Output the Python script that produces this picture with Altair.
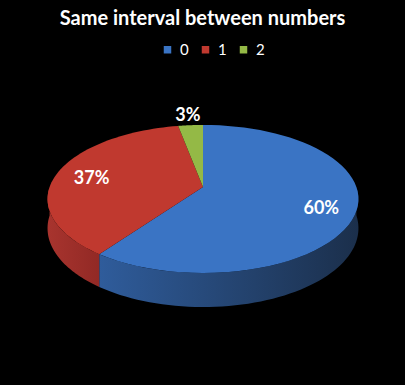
import altair as alt
import pandas as pd

# Shares of draws by how many times the same interval repeats
categories = ["0", "1", "2"]
shares = [60, 37, 3]
top_colors = ["#3a74c4", "#c0392f", "#94b946"]
side_shades = {
    "0": ("#2f5c9b", "#1b2f4b"),
    "1": ("#a8342e", "#922925"),
    "2": ("#7a9a35", "#5f7a28"),
}

W, H = 405, 385
TOP = 62                      # space kept above the plot for title and legend
CX, CY = 203, 187             # pie apex on the page
A, B, K, D = 153.4, 72.1, 0.162, 28.5   # ellipse radii, perspective, slab depth
N = 60                        # arc resolution per slice

source = pd.DataFrame({"category": categories, "share": shares})

xs = alt.Scale(domain=[0, W], range=[0, W], zero=False, nice=False)
ys = alt.Scale(domain=[TOP, H], range=[0, H - TOP], zero=False, nice=False)

base = (
    alt.Chart(source)
    .transform_joinaggregate(total="sum(share)")
    .transform_window(cum="sum(share)", sort=[alt.SortField("category")], frame=[None, 0])
    .transform_calculate(
        a0="2 * PI * (datum.cum - datum.share) / datum.total",
        a1="2 * PI * datum.cum / datum.total",
    )
)

persp = f"1 / (1 - {K} * datum.v)"

# Top faces of the slices
top = (
    base.transform_calculate(k=f"sequence(0, {N + 2})")
    .transform_flatten(["k"])
    .transform_calculate(th=f"datum.a0 + (datum.a1 - datum.a0) * (datum.k - 1) / {N}")
    .transform_calculate(
        u="datum.k == 0 ? 0 : sin(datum.th)",
        v="datum.k == 0 ? 0 : -cos(datum.th)",
    )
    .transform_calculate(s=persp)
    .transform_calculate(
        px=f"{CX} + {A} * datum.u * datum.s",
        py=f"{CY} + {B} * datum.v * datum.s",
    )
    .mark_line(filled=True, strokeWidth=0)
    .encode(
        x=alt.X("px:Q", scale=xs, axis=None),
        y=alt.Y("py:Q", scale=ys, axis=None),
        color=alt.Color(
            "category:N",
            scale=alt.Scale(domain=categories, range=top_colors),
            legend=alt.Legend(
                title=None,
                orient="none",
                legendX=160,
                legendY=42 - TOP,
                direction="horizontal",
                symbolType="square",
                symbolSize=56,
                symbolStrokeWidth=0,
                labelColor="white",
                labelFont="Lato",
                labelFontSize=15,
                labelOffset=5,
                columnPadding=9,
            ),
        ),
        detail="category:N",
        order="k:Q",
    )
)

# Front walls of the slab, where they face the viewer
side_base = (
    base.transform_calculate(b0="max(datum.a0, PI / 2)", b1="min(datum.a1, 3 * PI / 2)")
    .transform_filter("datum.b1 > datum.b0")
    .transform_calculate(k=f"sequence(0, {2 * N + 2})")
    .transform_flatten(["k"])
    .transform_calculate(
        lower=f"datum.k > {N} ? 1 : 0",
        f=f"datum.k > {N} ? ({2 * N + 1} - datum.k) / {N} : datum.k / {N}",
    )
    .transform_calculate(th="datum.b0 + (datum.b1 - datum.b0) * datum.f")
    .transform_calculate(u="sin(datum.th)", v="-cos(datum.th)")
    .transform_calculate(s=persp)
    .transform_calculate(
        px=f"{CX} + {A} * datum.u * datum.s",
        py=f"{CY} + ({B} * datum.v + datum.lower * {D}) * datum.s",
    )
)


def wall(cat):
    light, dark = side_shades[cat]
    return (
        side_base.transform_filter(alt.datum.category == cat)
        .mark_line(
            filled=True,
            strokeWidth=0,
            fill=alt.Gradient(
                gradient="linear",
                x1=0, x2=1, y1=0, y2=0,
                stops=[alt.GradientStop(color=light, offset=0),
                       alt.GradientStop(color=dark, offset=1)],
            ),
        )
        .encode(
            x=alt.X("px:Q", scale=xs, axis=None),
            y=alt.Y("py:Q", scale=ys, axis=None),
            order="k:Q",
        )
    )


# Percentage labels at each slice's middle angle
labels = (
    base.transform_calculate(
        th="(datum.a0 + datum.a1) / 2",
        r="datum.share < 10 ? 1.22 : 0.77",
        label="datum.share + '%'",
    )
    .transform_calculate(u="sin(datum.th)", v="-cos(datum.th)")
    .transform_calculate(s=persp)
    .transform_calculate(
        px=f"{CX} + {A} * datum.r * datum.u * datum.s",
        py=f"{CY} + {B} * datum.r * datum.v * datum.s",
    )
    .mark_text(font="Lato", fontWeight="bold", fontSize=18, color="white", dy=4)
    .encode(
        x=alt.X("px:Q", scale=xs, axis=None),
        y=alt.Y("py:Q", scale=ys, axis=None),
        text="label:N",
    )
)

chart = (
    alt.layer(*[wall(c) for c in categories], top, labels)
    .properties(
        width=W,
        height=H - TOP,
        padding={"left": 0, "right": 0, "top": TOP, "bottom": 0},
        autosize=alt.AutoSizeParams(type="none"),
        background="black",
        title=alt.TitleParams(
            "Same interval between numbers",
            anchor="middle",
            color="white",
            font="Lato",
            fontWeight="bold",
            fontSize=20,
            baseline="alphabetic",
            offset=-3,
        ),
    )
    .configure_view(stroke=None)
)

chart.save("out.html", embed_options={"renderer": "svg", "actions": False})
